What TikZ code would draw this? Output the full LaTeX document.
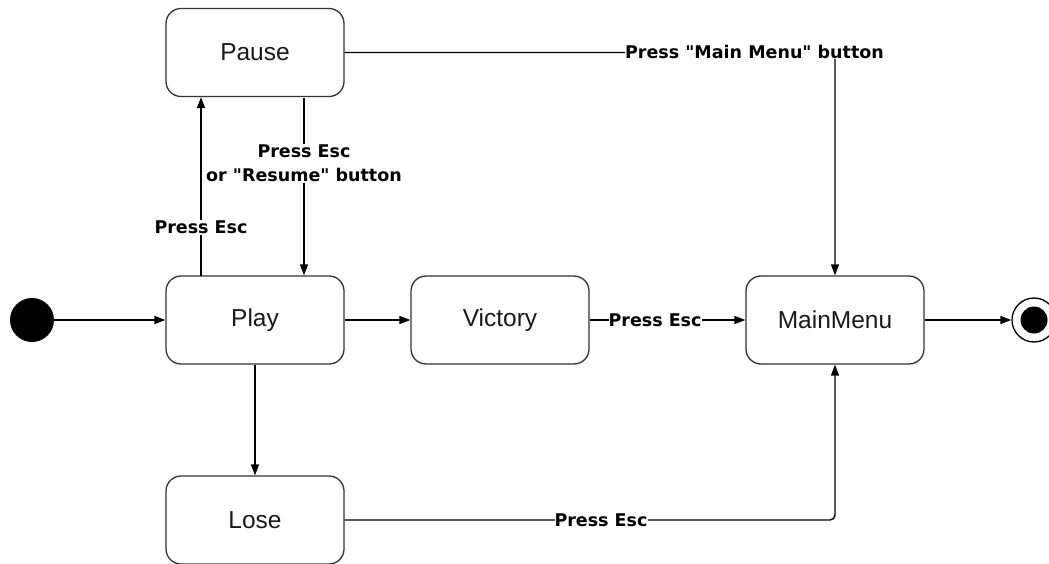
\documentclass[tikz,border=0pt]{standalone}
\usepackage{fontspec}
\setmainfont{Liberation Sans}
\newfontfamily\lblfont{DejaVu Sans}
\usetikzlibrary{arrows.meta}
\tikzset{
  state/.style={draw=black!80, line width=1.3pt, rounded corners=15pt, minimum width=178pt, minimum height=88pt, font=\fontsize{24.5}{27}\selectfont, text=black!90},
  conn/.style={line width=1.4pt, -{Triangle[length=11pt,width=8pt]}},
  lbl/.style={fill=white, inner sep=1pt, font=\lblfont\bfseries\fontsize{17.5}{24}\selectfont, align=center},
}
\begin{document}
\begin{tikzpicture}[x=1pt,y=-1pt]
\useasboundingbox (0,0) rectangle (1049,564);
\node[state] (pause) at (255,52.5) {Pause};
\node[state] (play) at (255,320) {Play};
\node[state] (victory) at (500,320) {Victory};
\node[state] (mainmenu) at (835,320) {MainMenu};
\node[state] (lose) at (255,520) {Lose};
\node[circle, fill=black, minimum size=44pt, inner sep=0pt] (start) at (32,320) {};
\node[circle, draw=black, line width=1.3pt, minimum size=44pt, inner sep=0pt] (final) at (1034,320) {};
\node[circle, fill=black, minimum size=27pt, inner sep=0pt] (finalin) at (final.center) {};
\coordinate (pu) at (201,276);
\coordinate (pd) at (304,98);
\draw[conn] (start) -- (play);
\draw[conn] (pu) -- (pu |- pause.south) node[lbl, pos=0.27] {Press Esc};
\draw[conn] (pd) -- (pd |- play.north) node[lbl, pos=0.37] {Press Esc\\or "Resume" button};
\draw[conn] (play) -- (victory);
\draw[conn] (victory) -- (mainmenu) node[lbl, inner sep=0pt, pos=0.42] {Press Esc};
\draw[conn] (mainmenu) -- (final);
\draw[conn] (play) -- (lose);
\draw[conn, rounded corners=4pt] (pause.east) -| (mainmenu.north);
\node[lbl, inner sep=0pt] (lblmm) at (754.5,52) {Press "Main Menu" button};
\draw[conn, rounded corners=5pt] (lose.east) -| (mainmenu.south);
\node[lbl, inner sep=0pt] (lblle) at (601,520) {Press Esc};
\end{tikzpicture}
\end{document}
